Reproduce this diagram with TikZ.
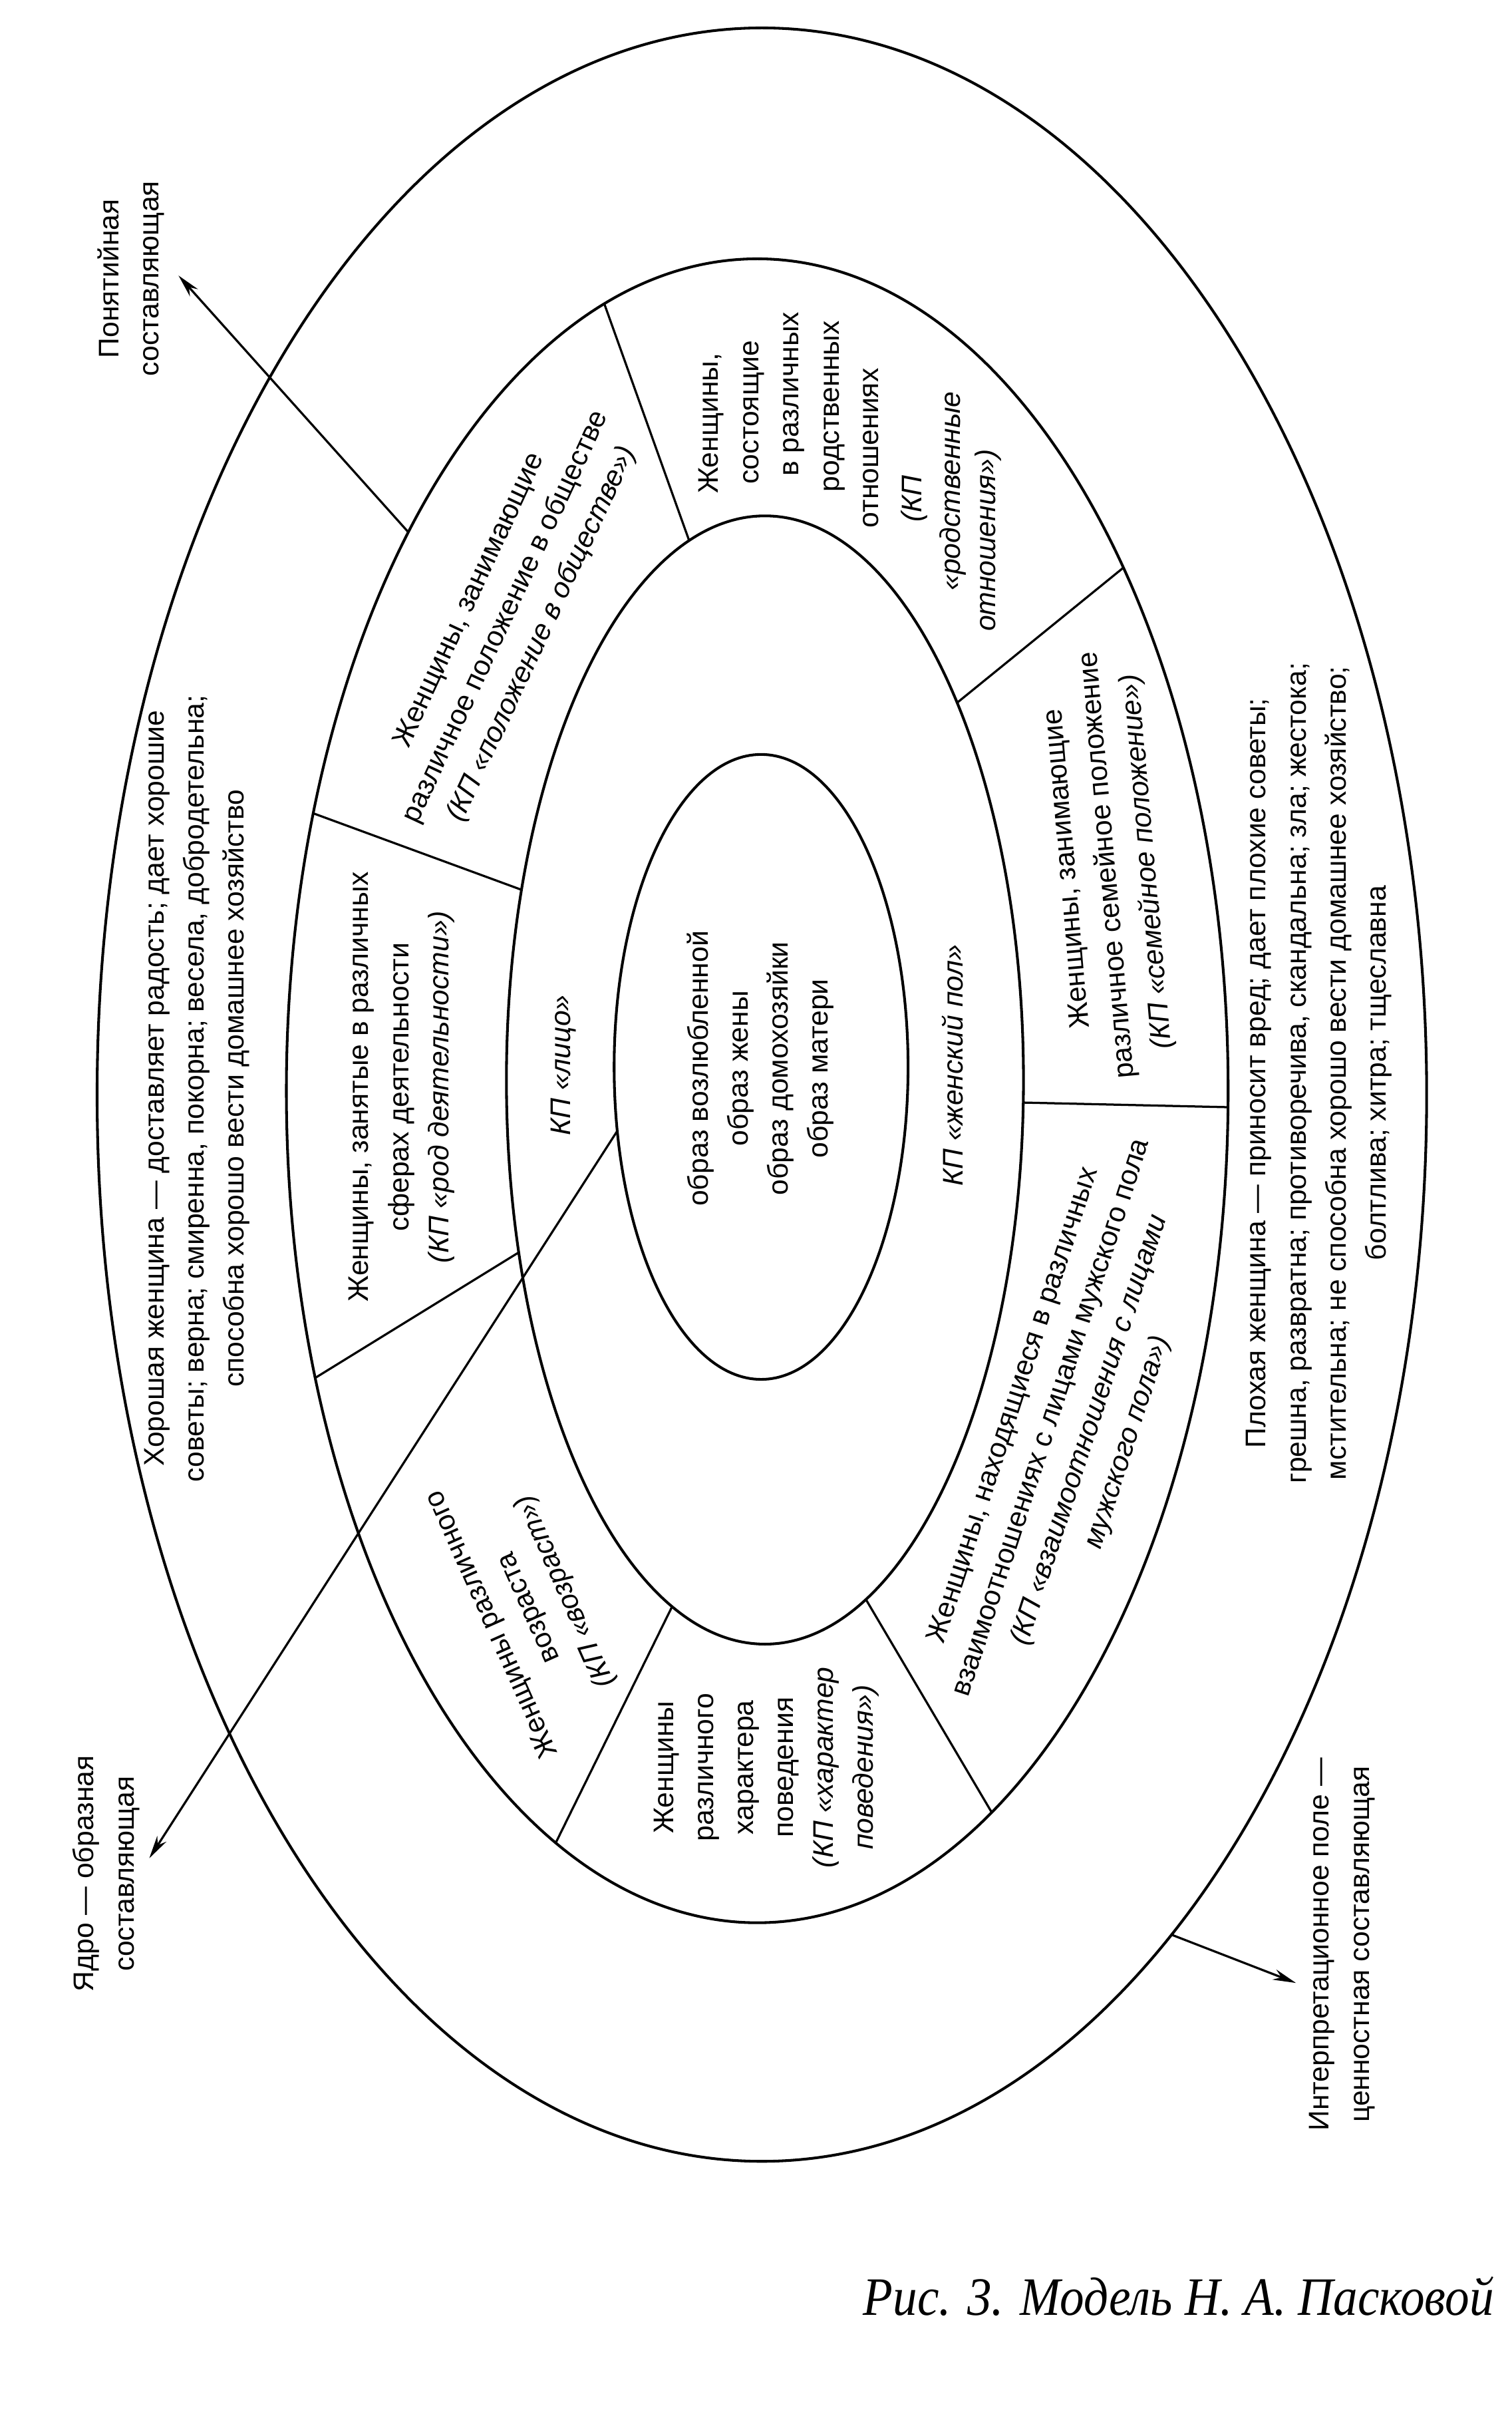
\documentclass[tikz,border=0pt]{standalone}
\usepackage{fontspec}
\setmainfont{Liberation Sans}
\newfontfamily\capfont{Liberation Serif}[FakeStretch=0.9]
\usetikzlibrary{shapes.geometric,arrows.meta}

\begin{document}
\begin{tikzpicture}[x=0.02cm, y=-0.02cm, >={Stealth[length=3mm,width=1.4mm]},
	oval/.style={draw, ellipse, line width=1pt, inner sep=0pt, outer sep=0pt},
	sep/.style={line width=0.8pt},
	txt/.style={inner sep=0pt, align=center, font=\fontsize{10.5}{14.8}\selectfont},
	itxt/.style={txt, font=\fontsize{10.5}{14.8}\selectfont\itshape}]
	\useasboundingbox (0,0) rectangle (982,1568);
	\node[oval, minimum width=17.28cm, minimum height=27.72cm] (outer) at (495,711) {};
	\node[oval, minimum width=12.24cm, minimum height=21.62cm] (ring) at (492,708.5) {};
	\node[oval, minimum width=6.72cm, minimum height=14.66cm] (mid) at (497,701.5) {};
	\node[oval, minimum width=3.82cm, minimum height=8.12cm] (core) at (494.5,693) {};
	% dividers of the ring
	\draw[sep] (ring.101.6) -- (mid.98.4);
	\draw[sep] (ring.55.8) -- (mid.63.1);
	\draw[sep] (mid.355.4) -- (ring.358.8);
	\draw[sep] (mid.281) -- (ring.288);
	\draw[sep] (mid.260.7) -- (ring.255.4);
	\draw[sep] (ring.213) -- (mid.215.2);
	\draw[sep] (ring.148.3) -- (mid.142.2);
	% arrows
	\coordinate (tipA) at (116,179);
	\coordinate (tipB) at (97,1207);
	\coordinate (tipC) at (842,1288);
	\draw[sep, ->] (ring.122.6) -- (tipA);
	\draw[sep, ->] (core.204.5) -- (tipB);
	\draw[sep, ->] (outer.296.8) -- (tipC);
	\node[txt, rotate=90] (notion) at (85,181) {Понятийная\\составляющая};
	\node[txt, rotate=90] (nucleus) at (69,1217) {Ядро — образная\\составляющая};
	\node[txt, rotate=90] (interp) at (872,1263) {Интерпретационное поле —\\ценностная составляющая};
	\node[txt, rotate=90] (good) at (128,707) {Хорошая женщина — доставляет радость; дает хорошие\\советы; верна; смиренна, покорна; весела, добродетельна;\\способна хорошо вести домашнее хозяйство};
	\node[txt, rotate=90] (bad) at (857,697) {Плохая женщина — приносит вред; дает плохие советы;\\грешна, развратна; противоречива, скандальна; зла; жестока;\\мстительна; не способна хорошо вести домашнее хозяйство;\\болтлива; хитра; тщеславна};
	% sectors
	\node[txt, rotate=65] (society) at (329,401) {Женщины, занимающие\\различное положение в обществе\\\textit{(КП «положение в обществе»)}};
	\node[txt, rotate=90] (kin1) at (462,275) {Женщины,};
	\node[txt, rotate=90] (kin2) at (490,268) {состоящие};
	\node[txt, rotate=90] (kin3) at (516,256) {в различных};
	\node[txt, rotate=90] (kin4) at (542,264) {родственных};
	\node[txt, rotate=90] (kin5) at (566,291) {отношениях};
	\node[itxt, rotate=90] (kin6) at (594,324) {(КП};
	\node[itxt, rotate=90] (kin7) at (619,319) {«родственные};
	\node[itxt, rotate=90] (kin8) at (642,351) {отношения»)};
	\node[txt, rotate=95] (family) at (720,562) {Женщины, занимающие\\различное семейное положение\\\textit{(КП «семейное положение»)}};
	\node[txt, rotate=72] (men) at (696,925) {Женщины, находящиеся в различных\\взаимоотношениях с лицами мужского пола\\\textit{(КП «взаимоотношения с лицами}\\\textit{мужского пола»)}};
	\node[txt, rotate=90] (manner) at (498,1148) {Женщины\\различного\\характера\\поведения\\\textit{(КП «характер}\\\textit{поведения»)}};
	\node[txt, rotate=114] (age) at (344,1044) {Женщины различного\\возраста\\\textit{(КП «возраст»)}};
	\node[txt, rotate=90] (work) at (261,706) {Женщины, занятые в различных\\сферах деятельности\\\textit{(КП «род деятельности»)}};
	\node[itxt, rotate=90] (face) at (366,692) {КП «лицо»};
	\node[itxt, rotate=90] (sex) at (619,692) {КП «женский пол»};
	\node[txt, rotate=90] (images) at (494,694) {образ возлюбленной\\образ жены\\образ домохозяйки\\образ матери};
	\node[anchor=base east, inner sep=0pt, font=\capfont\itshape\fontsize{20}{24}\selectfont] (caption) at (971,1504) {Рис. 3. Модель Н. А. Пасковой};
\end{tikzpicture}
\end{document}
